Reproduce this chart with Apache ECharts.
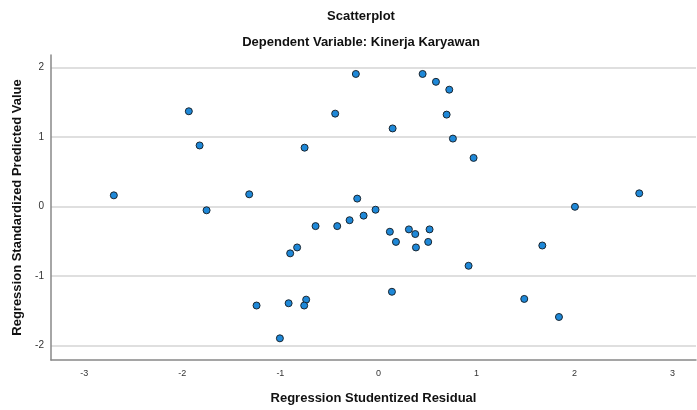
<!DOCTYPE html>
<html>
<head>
<meta charset="utf-8">
<script src="https://cdn.jsdelivr.net/npm/echarts@6/dist/echarts.min.js"></script>
<style>html,body{margin:0;padding:0;background:#fff}#c{width:697px;height:410px}</style>
</head>
<body>
<div id="c"></div>
<script>
const titleText = "Scatterplot";
const subtitleText = "Dependent Variable: Kinerja Karyawan";
const xName = "Regression Studentized Residual";
const yName = "Regression Standardized Predicted Value";
const residuals = [-1.934,-1.824,-2.699,-1.318,-1.753,-0.230,0.451,0.587,0.723,-0.441,0.696,0.145,0.760,-0.753,0.971,-0.216,-0.029,2.661,2.005,-1.243,-1.005,-0.641,-0.420,-0.294,-0.151,-0.829,-0.900,0.117,0.311,0.376,0.522,0.179,0.383,0.508,0.920,0.138,-0.916,-0.737,-0.757,1.672,1.488,1.842];
const predicted = [1.370,0.878,0.160,0.175,-0.055,1.907,1.907,1.794,1.681,1.336,1.322,1.123,0.977,0.846,0.699,0.113,-0.047,0.189,-0.005,-1.426,-1.898,-0.283,-0.283,-0.198,-0.132,-0.590,-0.675,-0.364,-0.330,-0.397,-0.330,-0.510,-0.590,-0.510,-0.854,-1.228,-1.393,-1.341,-1.426,-0.562,-1.331,-1.591];
const xTicks = [-3,-2,-1,0,1,2,3];
const yTicks = [-2,-1,0,1,2];

const points = residuals.map((r,i)=>[r,predicted[i]]);
const chart = echarts.init(document.getElementById('c'), null, {renderer:'canvas'});
const font = 'Arial, "Liberation Sans", sans-serif';
chart.setOption({
  animation:false,
  backgroundColor:'#fff',
  title:[
    {text:titleText,left:356,top:5,textAlign:'center',textStyle:{fontFamily:font,fontSize:13,fontWeight:'bold',color:'#111'}},
    {text:subtitleText,left:356,top:31,textAlign:'center',textStyle:{fontFamily:font,fontSize:13,fontWeight:'bold',color:'#111'}}
  ],
  grid:{left:51,right:1,top:55,bottom:45,containLabel:false},
  xAxis:{
    type:'value',min:-3.34,max:3.24,
    name:xName,nameLocation:'middle',nameGap:32,
    nameTextStyle:{fontFamily:font,fontSize:13,fontWeight:'bold',color:'#111'},
    axisLine:{show:true,onZero:false,lineStyle:{color:'#888',width:1.5}},
    splitLine:{show:false},
    axisLabel:{fontFamily:font,fontSize:9,color:'#333',margin:9,
      customValues:xTicks, formatter:v=>String(Math.round(v))},
    axisTick:{show:false,customValues:xTicks}
  },
  yAxis:{
    type:'value',min:-2.21,max:2.18,
    name:yName,nameLocation:'middle',nameGap:20,
    nameTextStyle:{fontFamily:font,fontSize:13,fontWeight:'bold',color:'#111'},
    axisLine:{show:true,onZero:false,lineStyle:{color:'#888',width:1.5}},
    axisTick:{show:false,customValues:yTicks},
    axisLabel:{fontFamily:font,fontSize:10,color:'#333',margin:7,customValues:yTicks,formatter:v=>String(Math.round(v))},
    splitLine:{show:true,lineStyle:{color:'#d4d4d4',width:1.5}},
    interval:1
  },
  series:[{
    type:'scatter',data:points,symbol:'circle',symbolSize:7,
    itemStyle:{color:'#1e88d8',borderColor:'#1a2630',borderWidth:1,opacity:1}
  }]
});
</script>
</body>
</html>
